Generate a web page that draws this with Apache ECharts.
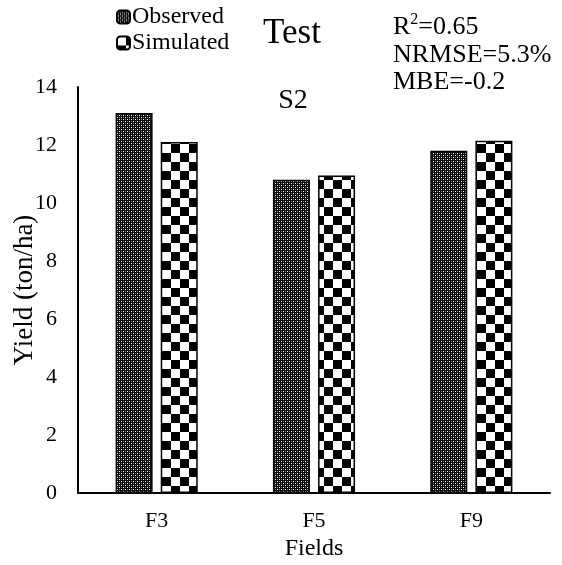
<!DOCTYPE html>
<html>
<head>
<meta charset="utf-8">
<script src="https://cdn.jsdelivr.net/npm/echarts@6/dist/echarts.min.js"></script>
<style>
html,body{margin:0;padding:0;background:#fff;}
#chart{width:562px;height:565px;}
</style>
</head>
<body>
<div id="chart"></div>
<script>
// ---- data ----
const categories = ['F3', 'F5', 'F9'];
const observed = [13.1, 10.8, 11.8];
const simulated = [12.1, 10.95, 12.15];
const seriesNames = ['Observed', 'Simulated'];
const statsLines = ['R', '2', '=0.65', 'NRMSE=5.3%', 'MBE=-0.2'];
const titleText = 'Test';
const subTitleText = 'S2';
const xAxisName = 'Fields';
const yAxisName = 'Yield (ton/ha)';

// ---- patterns ----
function makeDotPattern() {
  const c = document.createElement('canvas');
  c.width = 4; c.height = 4;
  const g = c.getContext('2d');
  g.fillStyle = '#0a0a0a'; g.fillRect(0, 0, 4, 4);
  g.fillStyle = '#ffffff';
  g.fillRect(1, 1, 1, 1); g.fillRect(3, 3, 1, 1);
  g.fillStyle = '#7a7a7a';
  g.fillRect(1, 3, 1, 1); g.fillRect(3, 1, 1, 1);
  return c;
}
function makeChecker() {
  const s = 9;
  const c = document.createElement('canvas');
  c.width = s * 2; c.height = s * 2;
  const g = c.getContext('2d');
  g.fillStyle = '#ffffff'; g.fillRect(0, 0, s * 2, s * 2);
  g.fillStyle = '#000000';
  g.fillRect(s, 0, s, s); g.fillRect(0, s, s, s);
  return c;
}
const dotPattern = { image: makeDotPattern(), repeat: 'repeat' };
const checkPattern = { image: makeChecker(), repeat: 'repeat' };

const FONT = '"Liberation Serif", "Times New Roman", serif';

const chart = echarts.init(document.getElementById('chart'), null, { renderer: 'canvas' });
chart.setOption({
  animation: false,
  backgroundColor: '#ffffff',
  textStyle: { fontFamily: FONT, color: '#000' },
  grid: { left: 78, right: 12, top: 87, bottom: 72, containLabel: false, outerBoundsMode: 'none' },
  legend: {
    orient: 'vertical',
    left: 111, top: 0,
    itemWidth: 13, itemHeight: 13,
    itemGap: 2,
    textStyle: { fontFamily: FONT, fontSize: 24, color: '#000', padding: [0, 0, 0, -3] },
    data: seriesNames
  },
  xAxis: {
    type: 'category',
    data: categories,
    name: xAxisName,
    nameLocation: 'middle',
    nameGap: 44,
    nameMoveOverlap: false,
    nameTextStyle: { fontFamily: FONT, fontSize: 24, color: '#000' },
    axisLine: { lineStyle: { color: '#000', width: 2 } },
    axisTick: { show: false },
    axisLabel: { fontFamily: FONT, fontSize: 22, color: '#000', margin: 17 }
  },
  yAxis: {
    type: 'value',
    min: 0, max: 14, interval: 2,
    name: yAxisName,
    nameLocation: 'middle',
    nameGap: 40,
    nameMoveOverlap: false,
    nameRotate: 90,
    nameTextStyle: { fontFamily: FONT, fontSize: 27, color: '#000' },
    axisLine: { show: true, lineStyle: { color: '#000', width: 2 } },
    axisTick: { show: false },
    splitLine: { show: false },
    axisLabel: { fontFamily: FONT, fontSize: 22, color: '#000', margin: 21 }
  },
  series: [
    {
      name: seriesNames[0], type: 'bar', data: observed,
      barWidth: 37, barGap: '22%',
      itemStyle: { color: dotPattern, borderColor: '#000', borderWidth: 1.5 }
    },
    {
      name: seriesNames[1], type: 'bar', data: simulated,
      barWidth: 37,
      itemStyle: { color: checkPattern, borderColor: '#000', borderWidth: 1.5 }
    }
  ],
  graphic: [
    { type: 'text', x: 292, y: 34, style: { text: titleText, font: '35px ' + FONT, fill: '#000', textAlign: 'center', textVerticalAlign: 'middle' } },
    { type: 'text', x: 293, y: 101, style: { text: subTitleText, font: '28px ' + FONT, fill: '#000', textAlign: 'center', textVerticalAlign: 'middle' } },
    { type: 'text', x: 393, y: 26, style: {
        text: '{a|' + statsLines[0] + '}{s|' + statsLines[1] + '}{a|' + statsLines[2] + '}',
        rich: {
          a: { fontFamily: FONT, fontSize: 26, lineHeight: 28, verticalAlign: 'bottom', color: '#000' },
          s: { fontFamily: FONT, fontSize: 16, lineHeight: 28, verticalAlign: 'top', padding: [0, 0, 12, 0], color: '#000' }
        },
        textVerticalAlign: 'middle' } },
    { type: 'text', x: 393, y: 55, style: { text: statsLines[3], font: '26px ' + FONT, fill: '#000', textVerticalAlign: 'middle' } },
    { type: 'text', x: 393, y: 82, style: { text: statsLines[4], font: '26px ' + FONT, fill: '#000', textVerticalAlign: 'middle' } }
  ]
});
</script>
</body>
</html>
